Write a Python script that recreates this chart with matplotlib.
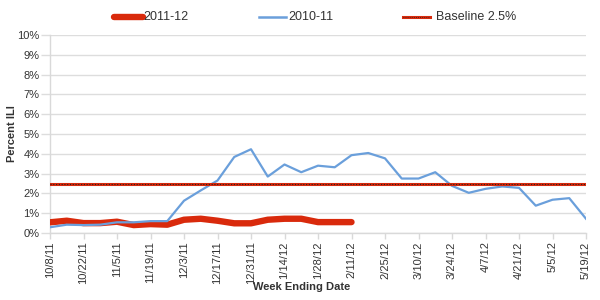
import matplotlib
matplotlib.use("Agg")
import matplotlib.pyplot as plt
from matplotlib.lines import Line2D

plt.rcParams['font.family'] = ['Liberation Sans', 'DejaVu Sans']

tick_labels = ["10/8/11", "10/22/11", "11/5/11", "11/19/11", "12/3/11", "12/17/11",
               "12/31/11", "1/14/12", "1/28/12", "2/11/12", "2/25/12", "3/10/12",
               "3/24/12", "4/7/12", "4/21/12", "5/5/12", "5/19/12"]

season_2010_11 = [0.29, 0.42, 0.40, 0.42, 0.54, 0.54, 0.60, 0.60, 1.63, 2.15, 2.65,
                  3.84, 4.23, 2.85, 3.46, 3.07, 3.40, 3.32, 3.93, 4.04, 3.77, 2.75,
                  2.75, 3.07, 2.38, 2.03, 2.23, 2.35, 2.28, 1.38, 1.68, 1.76, 0.72]
season_2011_12 = [0.54, 0.62, 0.50, 0.50, 0.57, 0.40, 0.45, 0.42, 0.67, 0.72, 0.62,
                  0.49, 0.49, 0.67, 0.72, 0.72, 0.55, 0.55, 0.55]
baseline = 2.5
legend_labels = ["2011-12", "2010-11", "Baseline 2.5%"]

W, H = 600, 300
fig = plt.figure(figsize=(6, 3), dpi=100)
ax = fig.add_axes([50 / W, 1 - 233 / H, 536 / W, 198 / H])

weeks_blue = list(range(len(season_2010_11)))
weeks_red = list(range(len(season_2011_12)))

red = '#d92a0c'
blue = '#6a9fdb'
txt = '#333333'

ax.plot(weeks_red, season_2011_12, color=red, lw=4.6, solid_capstyle='round',
        solid_joinstyle='round', zorder=3)
ax.plot(weeks_blue, season_2010_11, color=blue, lw=1.6, zorder=4)
ax.axhline(baseline, color=red, lw=2.2, zorder=5)
ax.axhline(baseline, color='#222222', lw=0.8, ls=(0, (1, 1.5)), zorder=6)

ax.set_xlim(0, len(season_2010_11) - 1)
ax.set_ylim(0, 10)
ax.set_yticks(range(0, 11))
ax.set_yticklabels([f"{i}%" for i in range(0, 11)], fontsize=8, color=txt)
ax.set_xticks(range(0, len(season_2010_11), 2))
ax.set_xticklabels(tick_labels, rotation=90, fontsize=8, color=txt)

ax.grid(axis='y', color='#dddddd', lw=1)
ax.set_axisbelow(True)
for s in ['top', 'right']:
    ax.spines[s].set_visible(False)
for s in ['left', 'bottom']:
    ax.spines[s].set_color('#d9d9d9')
    ax.spines[s].set_linewidth(1)
ax.tick_params(axis='y', color='#dddddd', length=6.5, width=1, pad=1)
ax.tick_params(axis='x', color='#d9d9d9', length=4, width=1, pad=2)

fig.text(12 / W, 1 - 134 / H, "Percent ILI", rotation=90, ha='center', va='center',
         fontsize=8, fontweight='bold', color=txt)
fig.text(302 / W, 1 - 287 / H, "Week Ending Date", ha='center', va='center',
         fontsize=8, fontweight='bold', color=txt)

# legend, drawn manually
ly = 1 - 17 / H
fig.add_artist(Line2D([114 / W, 143 / W], [ly, ly], color=red, lw=4.6,
                      solid_capstyle='round'))
fig.text(143 / W, ly, legend_labels[0], ha='left', va='center', fontsize=9, color=txt)
fig.add_artist(Line2D([259 / W, 286 / W], [ly, ly], color=blue, lw=1.8))
fig.text(288 / W, ly, legend_labels[1], ha='left', va='center', fontsize=9, color=txt)
fig.add_artist(Line2D([403 / W, 430 / W], [ly, ly], color=red, lw=2.2))
fig.add_artist(Line2D([403 / W, 430 / W], [ly, ly], color='#222222', lw=0.6,
                      ls=(0, (1, 1.5))))
fig.text(436 / W, ly, legend_labels[2], ha='left', va='center', fontsize=9, color=txt)

fig.savefig("out.png", dpi=100)
